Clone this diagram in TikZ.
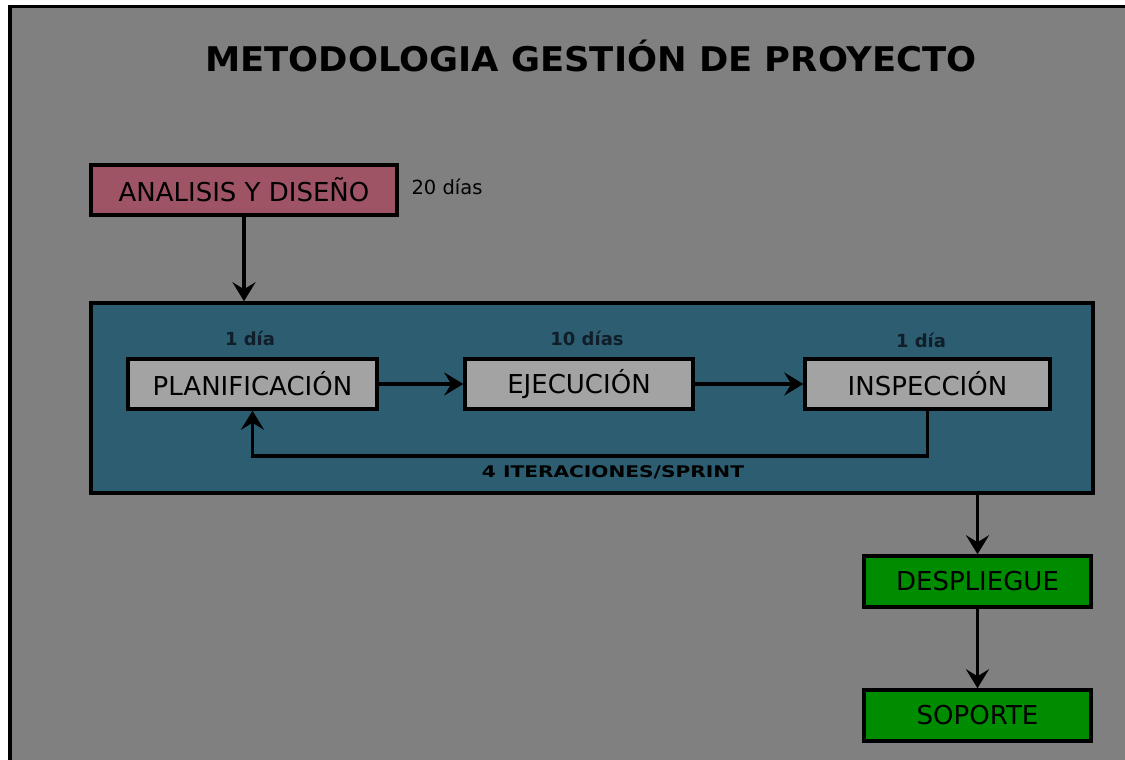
\documentclass[tikz,border=0pt]{standalone}
\usepackage{fontspec}
\setmainfont{DejaVu Sans}
\usetikzlibrary{arrows.meta}
\definecolor{fondo}{RGB}{128,128,128}
\definecolor{rosa}{RGB}{158,84,100}
\definecolor{azul}{RGB}{45,93,112}
\definecolor{gris}{RGB}{163,163,163}
\definecolor{verde}{RGB}{0,140,0}
\definecolor{tinta}{RGB}{16,30,42}
\begin{document}
\begin{tikzpicture}[x=1pt,y=-1pt,line cap=butt,line join=miter,>={Stealth[length=19pt,width=23pt,inset=7pt]}]
	\tikzset{caja/.style={draw=black,line width=3.5pt,inner sep=0pt,font=\fontsize{26}{30}\selectfont},
		flecha/.style={->,line width=3.5pt},
		dias/.style={font=\fontsize{18}{21}\selectfont\bfseries,text=tinta}
	}
	\useasboundingbox (0,0) rectangle (1125,760);
	\fill[white] (0,0) rectangle (1125,760);
	\fill[fondo] (10,6.5) rectangle (1125,760);
	\draw[line width=3.5pt] (10,760)--(10,6.5)--(1125,6.5);
	\node[font=\fontsize{34}{40}\selectfont\bfseries] (titulo) at (591,56) {\scalebox{1.04}[1]{METODOLOGIA GESTIÓN DE PROYECTO}};
	% analisis
	\node[caja,fill=rosa,minimum width=306pt,minimum height=50pt] (analisis) at (244,190) {ANALISIS Y DISEÑO};
	\node[font=\fontsize{19.5}{22}\selectfont,anchor=west] (veinte) at (408,187) {20 días};
	% sprint
	\node[caja,fill=azul,minimum width=1002pt,minimum height=190pt] (sprint) at (592,398) {};
	\node[caja,fill=gris,minimum width=249pt,minimum height=50pt] (plan) at (252.5,384) {PLANIFICACIÓN};
	\node[caja,fill=gris,minimum width=228pt,minimum height=50pt] (ejec) at (579,384) {EJECUCIÓN};
	\node[caja,fill=gris,minimum width=245pt,minimum height=50pt] (insp) at (927.5,384) {INSPECCIÓN};
	\node[dias] (d1) at (250,338) {1 día};
	\node[dias] (d2) at (587,338) {10 días};
	\node[dias] (d3) at (921,340) {1 día};
	\node[font=\fontsize{16}{19}\selectfont\bfseries] (iter) at (613,472) {\scalebox{1.26}[1]{4 ITERACIONES/SPRINT}};
	% despliegue
	\node[caja,fill=verde,minimum width=227pt,minimum height=51pt] (desp) at (977.5,581.5) {DESPLIEGUE};
	\node[caja,fill=verde,minimum width=227pt,minimum height=51pt] (sop) at (977.5,715.5) {SOPORTE};
	\draw[flecha] (analisis.south) -- (analisis.south |- sprint.north);
	\draw[flecha] (plan) -- (ejec);
	\draw[flecha] (ejec) -- (insp);
	\draw[flecha] (insp.south) -- ++(0,45) -| (plan.south);
	\draw[flecha] (desp.north |- sprint.south) -- (desp.north);
	\draw[flecha] (desp) -- (sop);
\end{tikzpicture}
\end{document}
